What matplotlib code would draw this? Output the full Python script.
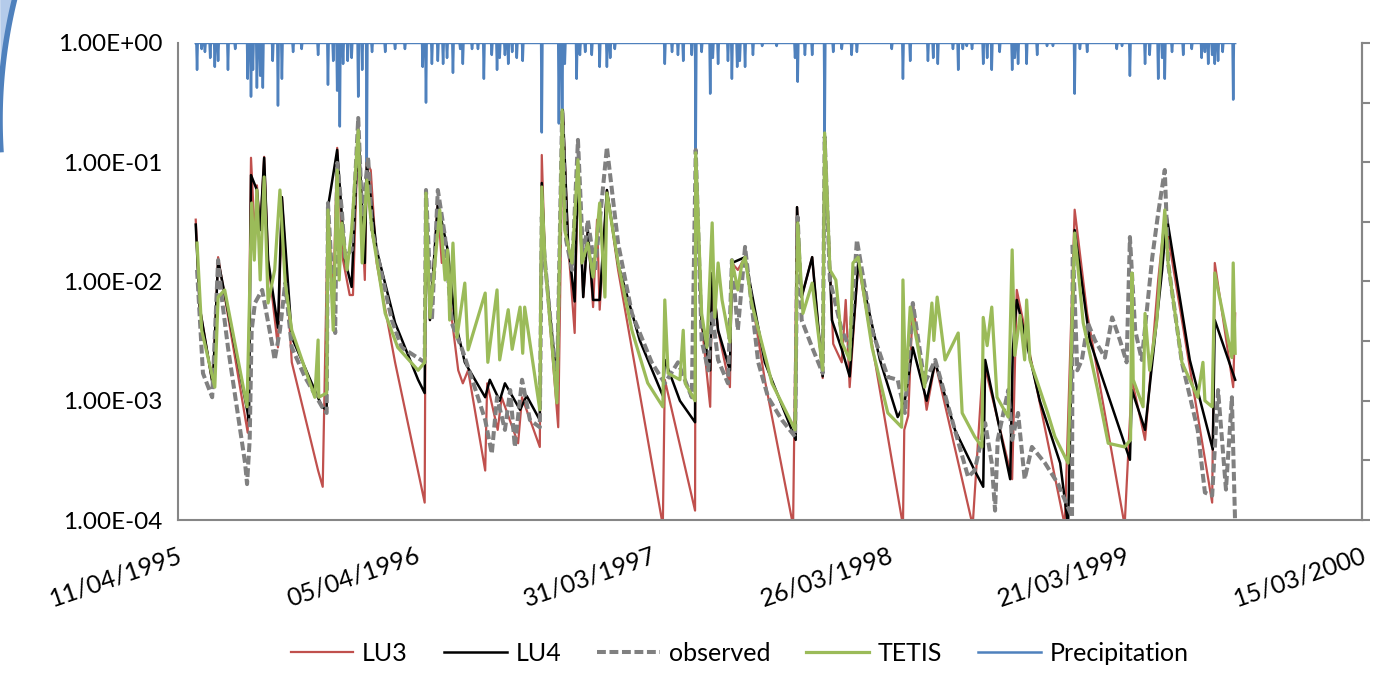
import numpy as np
import pandas as pd
import matplotlib
matplotlib.use('Agg')
import matplotlib.pyplot as plt
import matplotlib.dates as mdates
from matplotlib.patches import Polygon
from matplotlib.ticker import FixedLocator, FuncFormatter, NullFormatter

# Day numbers are counted from the first date of the axis
start = pd.Timestamp('1995-04-11')

# LU3 model
lu3_day = [27, 33, 53, 61, 106, 111, 117, 120, 125, 131, 137, 152, 158, 173, 213, 220, 228, 236, 242,
           251, 261, 266, 274, 284, 287, 293, 302, 330, 375, 377, 383, 395, 401, 410, 416, 426, 433, 441,
           467, 470, 486, 492, 517, 523, 550, 553, 558, 578, 585, 593, 603, 608, 616, 623, 631, 637, 641,
           652, 669, 737, 740, 786, 787, 796, 809, 812, 821, 839, 842, 851, 862, 892, 935, 941, 948, 964,
           980, 983, 994, 996, 1009, 1015, 1021, 1034, 1102, 1104, 1110, 1117, 1138, 1151, 1208, 1224,
           1268, 1275, 1348, 1363, 1382, 1439, 1450, 1470, 1490, 1500, 1572, 1576, 1604, 1607]
lu3_val = [0.033, 0.0061, 0.00135, 0.016, 0.00054, 0.109, 0.022, 0.064, 0.027, 0.111, 0.015, 0.0028,
           0.051, 0.0021, 0.00026, 0.00019, 0.042, 0.007, 0.132, 0.015, 0.0077, 0.0077, 0.21, 0.0103,
           0.099, 0.086, 0.0143, 0.0021, 0.00014, 0.055, 0.00475, 0.0455, 0.0143, 0.0184, 0.005, 0.0018,
           0.0014, 0.0018, 0.00026, 0.0014, 0.00057, 0.00107, 0.00044, 0.00107, 0.00041, 0.115, 0.0143,
           0.0006, 0.274, 0.021, 0.0037, 0.099, 0.0074, 0.027, 0.0061, 0.033, 0.0058, 0.0585, 0.0125,
           9e-5, 0.0015, 0.00012, 0.111, 0.0045, 0.00089, 0.0118, 0.0039, 0.0013, 0.0143, 0.0125, 0.016,
           0.0015, 9e-5, 0.042, 0.0074, 0.016, 0.00155, 0.163, 0.0054, 0.003, 0.0021, 0.007, 0.0013,
           0.0143, 9e-5, 0.00057, 0.00075, 0.0066, 0.00084, 0.0021, 9e-5, 0.0022, 0.00022, 0.0085,
           9e-5, 0.040, 0.0054, 9e-5, 0.0015, 0.00047, 0.0103, 0.035, 0.00014, 0.0143, 0.0013, 0.0054]

# LU4 model
lu4_day = [27, 33, 53, 61, 106, 108, 111, 120, 125, 131, 137, 152, 158, 173, 219, 226, 228, 242, 254,
           264, 274, 284, 287, 302, 330, 365, 375, 377, 383, 395, 410, 421, 436, 467, 474, 489, 497, 520,
           530, 550, 553, 558, 576, 585, 593, 603, 608, 616, 623, 631, 641, 652, 669, 702, 737, 740, 763,
           786, 787, 796, 809, 812, 821, 839, 842, 862, 892, 939, 941, 948, 964, 980, 983, 994, 1009, 1021,
           1034, 1067, 1094, 1104, 1117, 1138, 1151, 1181, 1211, 1224, 1227, 1265, 1269, 1275, 1310, 1341,
           1353, 1363, 1386, 1447, 1450, 1470, 1496, 1503, 1538, 1573, 1576, 1607]
lu4_val = [0.030, 0.0061, 0.00135, 0.0151, 0.00079, 0.00067, 0.078, 0.0585, 0.027, 0.109, 0.0151,
           0.0041, 0.051, 0.0034, 0.00089, 0.00084, 0.042, 0.127, 0.0151, 0.009, 0.186, 0.0143, 0.099,
           0.0184, 0.0045, 0.0015, 0.00116, 0.055, 0.00475, 0.0455, 0.0184, 0.00475, 0.0021, 0.00107,
           0.0015, 0.001, 0.0014, 0.00084, 0.0011, 0.00069, 0.067, 0.0143, 0.0014, 0.274, 0.021, 0.0068,
           0.099, 0.0074, 0.027, 0.007, 0.007, 0.0585, 0.014, 0.0032, 0.0011, 0.0022, 0.001, 0.00066,
           0.111, 0.0045, 0.0018, 0.0118, 0.0039, 0.0018, 0.0143, 0.016, 0.0021, 0.00047, 0.042, 0.0074,
           0.016, 0.0016, 0.163, 0.00475, 0.0027, 0.0016, 0.0143, 0.0022, 0.00073, 0.00093, 0.0028, 0.001,
           0.0021, 0.00057, 0.00026, 0.00019, 0.0022, 0.00022, 0.0027, 0.007, 0.001, 0.0003, 9e-5, 0.027,
           0.0032, 0.00032, 0.00123, 0.00057, 0.0125, 0.035, 0.0022, 0.00039, 0.00475, 0.0015]

# Observed discharge
obs_day = [29, 38, 52, 61, 67, 76, 102, 105, 109, 112, 117, 128, 143, 147, 155, 163, 173, 193, 219,
           226, 228, 239, 242, 249, 254, 264, 274, 280, 289, 295, 325, 340, 375, 377, 386, 395, 406, 416,
           432, 456, 467, 477, 485, 497, 505, 512, 523, 535, 550, 553, 558, 576, 584, 590, 599, 608, 616,
           623, 634, 652, 669, 690, 720, 740, 760, 781, 787, 796, 806, 812, 821, 836, 842, 851, 862, 882,
           897, 918, 938, 942, 948, 964, 980, 983, 991, 1009, 1021, 1032, 1055, 1079, 1094, 1105, 1117,
           1135, 1151, 1181, 1201, 1211, 1227, 1237, 1242, 1246, 1262, 1268, 1277, 1287, 1298, 1318, 1338,
           1359, 1360, 1367, 1374, 1383, 1394, 1409, 1420, 1432, 1442, 1447, 1455, 1465, 1481, 1490, 1500,
           1505, 1526, 1550, 1561, 1572, 1581, 1593, 1602, 1607]
obs_val = [0.0125, 0.0017, 0.00107, 0.0151, 0.007, 0.0028, 0.0003, 0.0002, 0.00047, 0.0039, 0.0066,
           0.0085, 0.003, 0.0022, 0.0039, 0.0097, 0.0028, 0.00158, 0.00089, 0.00079, 0.0455, 0.0037,
           0.0987, 0.0398, 0.016, 0.0184, 0.235, 0.0348, 0.111, 0.027, 0.00475, 0.0028, 0.0021, 0.0585,
           0.00475, 0.0585, 0.0236, 0.0045, 0.0027, 0.00107, 0.00069, 0.00036, 0.00107, 0.00057, 0.00123,
           0.00041, 0.0015, 0.00069, 0.0006, 0.0348, 0.0143, 0.00123, 0.274, 0.0223, 0.0125, 0.154,
           0.0151, 0.0328, 0.0125, 0.134, 0.021, 0.0054, 0.0021, 0.0014, 0.0021, 0.00107, 0.127, 0.0032,
           0.0018, 0.0054, 0.0022, 0.0014, 0.0151, 0.0039, 0.0195, 0.0021, 0.00107, 0.00069, 0.0005,
           0.0348, 0.00475, 0.0028, 0.0017, 0.163, 0.0103, 0.0039, 0.0028, 0.0223, 0.0039, 0.00158,
           0.0015, 0.00079, 0.0066, 0.0014, 0.0022, 0.00057, 0.00023, 0.00026, 0.00065, 0.0003, 0.00012,
           0.00047, 0.00123, 0.00047, 0.00079, 0.00022, 0.00041, 0.0003, 0.0002, 0.000106, 0.021, 0.0018,
           0.0022, 0.0045, 0.0032, 0.0023, 0.005, 0.0032, 0.0021, 0.0236, 0.0039, 0.0022, 0.016, 0.0375,
           0.0861, 0.0143, 0.0021, 0.00057, 0.00017, 0.00016, 0.00123, 0.00018, 0.00107, 9e-5]

# TETIS model
tetis_day = [29, 36, 56, 61, 71, 105, 112, 116, 120, 125, 131, 137, 147, 155, 163, 173, 208, 213, 214,
             226, 228, 236, 242, 245, 249, 257, 264, 274, 280, 287, 295, 315, 334, 365, 375, 377, 383, 398,
             406, 410, 413, 418, 424, 436, 441, 467, 471, 485, 489, 502, 508, 520, 524, 527, 550, 553, 558,
             576, 584, 588, 599, 608, 614, 623, 631, 641, 649, 652, 669, 690, 714, 737, 740, 745, 763, 768,
             771, 786, 787, 796, 804, 812, 816, 821, 827, 839, 842, 851, 857, 862, 872, 903, 923, 938, 942,
             950, 964, 980, 983, 991, 1000, 1009, 1021, 1026, 1034, 1055, 1079, 1100, 1102, 1106, 1113,
             1123, 1135, 1146, 1149, 1154, 1166, 1186, 1192, 1211, 1222, 1224, 1230, 1237, 1245, 1262,
             1268, 1272, 1280, 1287, 1290, 1295, 1322, 1333, 1353, 1363, 1376, 1398, 1414, 1439, 1448,
             1450, 1452, 1467, 1470, 1477, 1488, 1494, 1500, 1505, 1526, 1550, 1558, 1561, 1572, 1576,
             1581, 1602, 1604, 1607]
tetis_val = [0.021, 0.0039, 0.0013, 0.0074, 0.0085, 0.00089, 0.0455, 0.0151, 0.0585, 0.0103, 0.0752,
             0.0066, 0.0125, 0.0585, 0.0097, 0.0039, 0.00107, 0.00323, 0.00107, 0.00116, 0.0398, 0.0039,
             0.0861, 0.0103, 0.031, 0.0125, 0.027, 0.186, 0.0143, 0.071, 0.027, 0.0054, 0.0028, 0.0018,
             0.0021, 0.055, 0.005, 0.0398, 0.0103, 0.0184, 0.00475, 0.021, 0.0034, 0.0097, 0.00267, 0.008,
             0.0021, 0.0085, 0.0022, 0.0058, 0.0027, 0.0061, 0.0025, 0.0061, 0.00084, 0.062, 0.0143,
             0.00096, 0.274, 0.027, 0.0143, 0.105, 0.0143, 0.021, 0.0109, 0.0455, 0.0074, 0.0552, 0.0143,
             0.0039, 0.00141, 0.00089, 0.007, 0.0017, 0.0015, 0.0039, 0.0014, 0.001, 0.12, 0.0054, 0.0028,
             0.031, 0.005, 0.0143, 0.007, 0.0031, 0.0151, 0.0085, 0.014, 0.016, 0.0066, 0.0014, 0.00084,
             0.00057, 0.031, 0.0054, 0.0097, 0.0018, 0.176, 0.0125, 0.0103, 0.0031, 0.0022, 0.0143, 0.016,
             0.0028, 0.00079, 0.0006, 0.0103, 0.00123, 0.0061, 0.0032, 0.0013, 0.0066, 0.0032, 0.0074,
             0.0022, 0.0037, 0.00079, 0.0005, 0.00041, 0.005, 0.0029, 0.0061, 0.00107, 0.00073, 0.0184,
             0.0024, 0.0052, 0.0022, 0.007, 0.0022, 0.00079, 0.0005, 0.0003, 0.0255, 0.0045, 0.00123,
             0.00044, 0.00041, 0.00047, 0.0118, 0.0015, 0.00089, 0.0054, 0.0018, 0.00475, 0.0143, 0.0398,
             0.0143, 0.0021, 0.00107, 0.0021, 0.001, 0.00089, 0.0118, 0.0085, 0.0023, 0.0143, 0.0025]

# Precipitation: rain days and amounts (right axis, reversed), every other day is dry
rain_first, rain_last = 27, 1607
rain_day = [29, 36, 41, 49, 56, 61, 76, 87, 106, 111, 114, 120, 125, 129, 144, 152, 158, 175, 188, 213,
            228, 236, 242, 246, 251, 258, 264, 274, 280, 287, 295, 315, 330, 345, 372, 377, 386, 395, 403,
            409, 418, 429, 433, 447, 456, 465, 477, 485, 489, 497, 502, 508, 515, 524, 553, 579, 584, 588,
            606, 611, 619, 629, 641, 652, 657, 664, 740, 751, 760, 768, 781, 787, 796, 809, 813, 821, 836,
            842, 850, 854, 862, 874, 888, 910, 938, 942, 953, 964, 983, 996, 1009, 1024, 1032, 1085, 1102,
            1113, 1140, 1148, 1155, 1178, 1186, 1193, 1199, 1207, 1224, 1230, 1237, 1249, 1268, 1272, 1277,
            1290, 1306, 1321, 1330, 1363, 1371, 1382, 1427, 1435, 1447, 1470, 1477, 1490, 1496, 1500, 1511,
            1528, 1541, 1556, 1561, 1566, 1572, 1576, 1581, 1588, 1604]
rain_mm = [9, 2, 3, 5, 8, 6, 9, 2, 12, 18, 9, 15, 11, 15, 6, 21, 12, 3, 2, 4,
           14, 6, 16, 28, 7, 6, 5, 18, 9, 40, 3, 3, 2, 2, 8, 20, 7, 6, 7,
           5, 10, 2, 7, 2, 2, 12, 4, 9, 5, 4, 7, 3, 5, 6, 30, 27, 31, 7,
           12, 4, 3, 4, 8, 8, 5, 2, 7, 3, 4, 6, 4, 36, 3, 17, 5, 7, 6,
           12, 8, 6, 8, 4, 1, 1, 5, 13, 4, 4, 32, 3, 2, 4, 3, 2, 12,
           6, 6, 5, 7, 2, 9, 2, 1, 2, 7, 5, 9, 3, 9, 5, 7,
           7, 4, 1, 1, 17, 2, 3, 2, 1, 11, 7, 4, 12, 5, 12, 3,
           4, 2, 5, 3, 7, 4, 7, 6, 3, 19]

# Building the daily precipitation series from the rain days
rain_days = np.arange(rain_first, rain_last + 1)
rain = np.zeros(len(rain_days))
rain[np.array(rain_day) - rain_first] = rain_mm

# Tick dates on the horizontal axis (every 360 days, as in the original sheet)
tick_dates = [start + pd.Timedelta(days=360 * k) for k in range(6)]
y_ticks = [1e-4, 1e-3, 1e-2, 1e-1, 1e0]


def to_dates(days):
    return [start + pd.Timedelta(days=int(d)) for d in days]


plt.rcParams['font.family'] = ['Lato', 'DejaVu Sans']

figure = plt.figure(figsize=(13.85, 6.82), dpi=100)
ax = figure.add_axes([0.1285, 0.2375, 0.855, 0.6995])
ax2 = ax.twinx()
# Precipitation sits behind the discharge lines
ax2.set_zorder(ax.get_zorder() - 1)
ax.patch.set_visible(False)

# Discharge series
l3, = ax.plot(to_dates(lu3_day), lu3_val, color='#C0504D', lw=1.6, label='LU3')
l4, = ax.plot(to_dates(lu4_day), lu4_val, color='black', lw=1.8, label='LU4')
lo, = ax.plot(to_dates(obs_day), obs_val, color='#808080', lw=2.9, linestyle=(0, (2.2, 0.9)),
              label='observed')
lt, = ax.plot(to_dates(tetis_day), tetis_val, color='#9BBB59', lw=2.3, label='TETIS')

# Precipitation on the secondary axis
lp, = ax2.plot(to_dates(rain_days), rain, color='#4F81BD', lw=1.8, label='Precipitation')

# Primary axis settings
ax.set_yscale('log')
ax.set_ylim(1e-4, 1)
ax.set_xlim(tick_dates[0], tick_dates[-1])
ax.yaxis.set_major_locator(FixedLocator(y_ticks))
ax.yaxis.set_minor_locator(FixedLocator([]))
ax.yaxis.set_minor_formatter(NullFormatter())
ax.yaxis.set_major_formatter(FuncFormatter(lambda v, p: '{:.2E}'.format(v)))
ax.xaxis.set_major_locator(FixedLocator(mdates.date2num(tick_dates)))
ax.xaxis.set_major_formatter(mdates.DateFormatter('%d/%m/%Y'))
ax.tick_params(axis='y', length=0, labelsize=17.5, pad=11)
ax.tick_params(axis='x', length=0, labelsize=18, pad=17)
for lab in ax.get_xticklabels():
    lab.set_rotation(19)
    lab.set_ha('right')
    lab.set_rotation_mode('anchor')

# Secondary axis settings (no labels, reversed)
ax2.set_ylim(160, 0)
ax2.set_yticks(np.arange(0, 161, 20))
ax2.set_yticklabels([])
ax2.tick_params(axis='y', length=6, color='#868686', width=1.5)

for a in (ax, ax2):
    a.spines['top'].set_visible(False)
    for s in ('left', 'right', 'bottom'):
        a.spines[s].set_color('#868686')
        a.spines[s].set_linewidth(1.5)
ax2.spines['left'].set_visible(False)
ax2.spines['bottom'].set_visible(False)

# Legend under the chart
figure.legend(handles=[l3, l4, lo, lt, lp], loc='center', bbox_to_anchor=(0.534, 0.042), ncol=5,
              frameon=False, fontsize=18, handlelength=2.5, columnspacing=1.45, handletextpad=0.35)

# Blue slide decoration in the upper left corner (pixel geometry turned into figure fractions)
t = np.linspace(-3.2, -2.8, 80)
r = 507
cx, cy = 507, 120
arc_x = (cx + r * np.cos(t)) / 1385
arc_y = 1 - (cy + r * np.sin(t)) / 682
corner = list(zip(arc_x, arc_y)) + [(0, arc_y[-1])]
figure.patches.append(Polygon(corner, closed=True, transform=figure.transFigure,
                              facecolor='#B4CBEA', edgecolor='none', zorder=-5))
figure.lines.append(plt.Line2D(arc_x, arc_y, transform=figure.transFigure, color='#4F81BD', lw=4))

figure.savefig('out.png', dpi=100)
